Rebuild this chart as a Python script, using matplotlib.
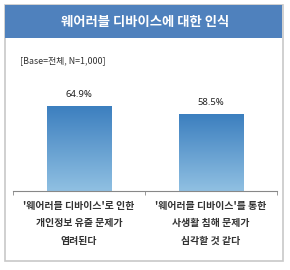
# 웨어러블 디바이스 인식 막대 그래프

import numpy as np
import matplotlib.pyplot as plt
from matplotlib.patches import Rectangle
from matplotlib.colors import LinearSegmentedColormap

plt.rcParams['font.family'] = ['Noto Sans CJK KR', 'DejaVu Sans']

categories = ["'웨어러블 디바이스'로 인한\n개인정보 유출 문제가\n염려된다",
              "'웨어러블 디바이스'를 통한\n사생활 침해 문제가\n심각할 것 같다"]
values = [64.9, 58.5]
value_labels = ['64.9%', '58.5%']
title = '웨어러블 디바이스에 대한 인식'
base_note = '[Base=전체, N=1,000]'

fig = plt.figure(figsize=(2.9, 2.7), dpi=100)
fig.patch.set_facecolor('white')

# 바깥 테두리 박스
fig.patches.append(Rectangle((0.017, 0.033), 0.959, 0.948, transform=fig.transFigure,
                             facecolor='white', edgecolor='#c8c8c8', linewidth=1.2, zorder=-2))
# 제목 배경 띠
fig.patches.append(Rectangle((0.017, 0.859), 0.956, 0.122, transform=fig.transFigure,
                             facecolor='#4f81bd', edgecolor='none', zorder=-1))
fig.text(0.5, 0.917, title, color='white', fontsize=9.6, fontweight='bold',
         ha='center', va='center')
fig.text(0.069, 0.774, base_note, color='#333333', fontsize=6.4, ha='left', va='center')

ax = fig.add_axes([0.045, 0.293, 0.91, 0.485])
ax.set_zorder(2)
x = np.arange(len(values))
bars = ax.bar(x, values, width=0.49, color='none', edgecolor='none')

# 그라데이션 (위: 진한 파랑, 아래: 연한 파랑)
grad = np.linspace(0, 1, 256).reshape(-1, 1)
cmap = LinearSegmentedColormap.from_list('bar', ['#3c7fbf', '#90c0e2'])
for b in bars:
    x0, y0 = b.get_x(), b.get_y()
    im = ax.imshow(grad, cmap=cmap, aspect='auto', origin='upper',
                   extent=(x0, x0 + b.get_width(), y0, y0 + b.get_height()), zorder=2)
    im.set_clip_path(b)

for xi, v, lab in zip(x, values, value_labels):
    ax.annotate(lab, (xi, v), xytext=(0, 5), textcoords='offset points',
                ha='center', va='bottom', fontsize=6.8, color='#222222',
                family=['Noto Sans', 'DejaVu Sans'])

ax.set_xlim(-0.5, 1.5)
ax.set_ylim(0, 100)
ax.set_xticks(x)
ax.set_xticklabels(categories, fontsize=7.1, fontweight='bold', color='#333333',
                   linespacing=1.95)
ax.tick_params(axis='x', which='major', length=0, pad=7)
ax.set_xticks([-0.5, 0.5, 1.5], minor=True)
ax.tick_params(axis='x', which='minor', length=3, color='#888888', direction='out')
ax.set_yticks([])
for s in ['top', 'right', 'left']:
    ax.spines[s].set_visible(False)
ax.spines['bottom'].set_color('#888888')
ax.spines['bottom'].set_linewidth(0.8)
ax.patch.set_alpha(0)

plt.savefig('out.png', dpi=100)
